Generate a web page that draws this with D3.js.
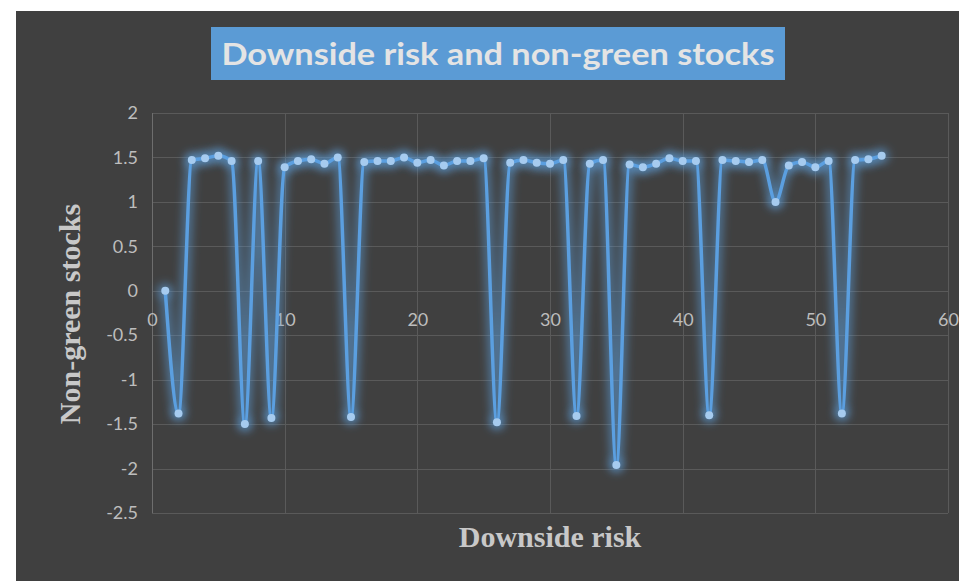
<!DOCTYPE html>
<html>
<head>
<meta charset="utf-8">
<script src="https://cdn.jsdelivr.net/npm/d3@7"></script>
<style>
  html, body { margin: 0; padding: 0; background: #ffffff; }
  svg { display: block; }
</style>
</head>
<body>
<svg id="chart" width="959" height="581"></svg>
<script>
// Downside risk (x) against non-green stocks (y)
const downsideRisk = d3.range(1, 56);
const nonGreen = [
  0.00, -1.38, 1.47, 1.49, 1.52, 1.46, -1.50, 1.46, -1.43, 1.39,
  1.46, 1.48, 1.43, 1.50, -1.42, 1.45, 1.46, 1.46, 1.50, 1.44,
  1.47, 1.41, 1.46, 1.46, 1.49, -1.48, 1.44, 1.47, 1.44, 1.43,
  1.47, -1.41, 1.43, 1.47, -1.96, 1.42, 1.39, 1.43, 1.49, 1.46,
  1.46, -1.40, 1.47, 1.46, 1.45, 1.47, 1.00, 1.41, 1.45, 1.39,
  1.46, -1.38, 1.47, 1.48, 1.52
];
const xTicks = [0, 10, 20, 30, 40, 50, 60];
const yTicks = [2, 1.5, 1, 0.5, 0, -0.5, -1, -1.5, -2, -2.5];
const titleText = "Downside risk and non-green stocks";
const xTitle = "Downside risk";
const yTitle = "Non-green stocks";

const points = downsideRisk.map((x, i) => ({ x, y: nonGreen[i] }));

const svg = d3.select("#chart");
const W = 959, H = 581;
const plot = { left: 152, right: 948, top: 113, bottom: 513 };

const x = d3.scaleLinear().domain([0, 60]).range([plot.left, plot.right]);
const y = d3.scaleLinear().domain([-2.5, 2]).range([plot.bottom, plot.top]);

// glow filter
const defs = svg.append("defs");
const glow = defs.append("filter").attr("id", "glow")
  .attr("filterUnits", "userSpaceOnUse")
  .attr("x", 0).attr("y", 0).attr("width", W).attr("height", H);
glow.append("feGaussianBlur").attr("stdDeviation", 4);

// chart background
svg.append("rect").attr("x", 16).attr("y", 11)
  .attr("width", W - 16).attr("height", H - 11).attr("fill", "#404040");

// title banner
const titleG = svg.append("g");
titleG.append("rect").attr("x", 211).attr("y", 27).attr("width", 574).attr("height", 53)
  .attr("fill", "#5b9bd5");
titleG.append("text").attr("x", 498).attr("y", 64.5)
  .attr("text-anchor", "middle")
  .attr("font-family", "Lato, 'Open Sans', sans-serif")
  .attr("font-weight", 700).attr("font-size", 31)
  .attr("fill", "#e4e4e4")
  .attr("textLength", 553).attr("lengthAdjust", "spacingAndGlyphs")
  .text(titleText);

// gridlines
const grid = svg.append("g").attr("stroke", "#5a5a5a").attr("stroke-width", 1);
grid.selectAll("line.h").data(yTicks).join("line")
  .attr("x1", plot.left).attr("x2", plot.right)
  .attr("y1", d => Math.round(y(d)) + 0.5).attr("y2", d => Math.round(y(d)) + 0.5);
grid.selectAll("line.v").data(xTicks).join("line")
  .attr("y1", plot.top).attr("y2", plot.bottom)
  .attr("x1", d => Math.round(x(d)) + 0.5).attr("x2", d => Math.round(x(d)) + 0.5)
  .attr("stroke", d => d === 0 ? "#6e6e6e" : "#5a5a5a");

// y axis tick labels (plain hyphen minus)
const yAxis = d3.axisLeft(y).tickValues(yTicks).tickSize(0).tickPadding(14)
  .tickFormat(d => String(d));
svg.append("g").attr("transform", `translate(${plot.left},0)`).call(yAxis)
  .call(g => g.select(".domain").remove())
  .call(g => g.selectAll("text")
    .attr("font-family", "Lato, 'Open Sans', sans-serif")
    .attr("font-size", 18).attr("fill", "#bdbdbd"));

// x axis tick labels, sitting beside the zero line
const xAxis = d3.axisBottom(x).tickValues(xTicks).tickSize(0).tickPadding(22)
  .tickFormat(d => String(d));
svg.append("g").attr("transform", `translate(0,${y(0)})`).call(xAxis)
  .call(g => g.select(".domain").remove())
  .call(g => g.selectAll("text")
    .attr("font-family", "Lato, 'Open Sans', sans-serif")
    .attr("font-size", 18).attr("fill", "#bdbdbd"));

// axis titles
svg.append("text").attr("x", 550).attr("y", 547)
  .attr("text-anchor", "middle")
  .attr("font-family", "'Liberation Serif', 'Times New Roman', serif")
  .attr("font-weight", 700).attr("font-size", 30).attr("fill", "#c8c8c8")
  .text(xTitle);
svg.append("text")
  .attr("transform", "translate(80,314) rotate(-90)")
  .attr("text-anchor", "middle")
  .attr("font-family", "'Liberation Serif', 'Times New Roman', serif")
  .attr("font-weight", 700).attr("font-size", 30).attr("fill", "#c8c8c8")
  .text(yTitle);

// smoothed series line with glow
const line = d3.line().x(d => x(d.x)).y(d => y(d.y))
  .curve(d3.curveMonotoneX);

const series = svg.append("g");
series.append("path").datum(points)
  .attr("d", line).attr("fill", "none")
  .attr("stroke", "#5b9bd5").attr("stroke-width", 10).attr("stroke-opacity", 0.55)
  .attr("stroke-linejoin", "round")
  .attr("filter", "url(#glow)");
series.selectAll("circle.glow").data(points).join("circle")
  .attr("class", "glow")
  .attr("cx", d => x(d.x)).attr("cy", d => y(d.y)).attr("r", 8)
  .attr("fill", "#5b9bd5").attr("fill-opacity", 0.5)
  .attr("filter", "url(#glow)");
series.append("path").datum(points)
  .attr("d", line).attr("fill", "none")
  .attr("stroke", "#5b9fe0").attr("stroke-width", 3.5)
  .attr("stroke-linejoin", "round");
series.selectAll("circle.pt").data(points).join("circle")
  .attr("class", "pt")
  .attr("cx", d => x(d.x)).attr("cy", d => y(d.y)).attr("r", 4)
  .attr("fill", "#a6cbef");
</script>
</body>
</html>
